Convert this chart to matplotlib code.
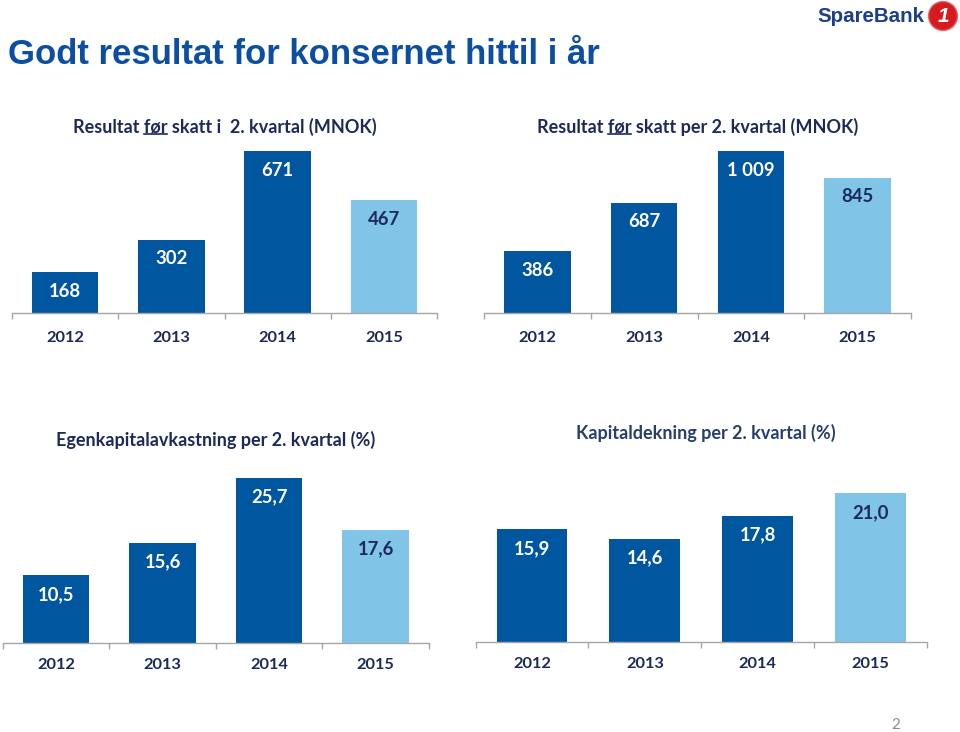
import matplotlib
matplotlib.use('Agg')
import matplotlib.pyplot as plt
from matplotlib.lines import Line2D
from matplotlib.patches import Circle
from matplotlib.transforms import IdentityTransform

years = ['2012', '2013', '2014', '2015']
res_kvartal = [168, 302, 671, 467]
res_hittil = [386, 687, 1009, 845]
ek_avkastning = [10.5, 15.6, 25.7, 17.6]
kapitaldekning = [15.9, 14.6, 17.8, 21.0]

W, H = 960, 732
dark = '#00579F'
light = '#80C4E8'
navy = '#1C2A5A'
grey = '#A6A6A6'
font = 'Lato'

fig = plt.figure(figsize=(W / 100, H / 100), dpi=100)


def px_axes(x0, x1, ytop, ybot):
    return fig.add_axes([x0 / W, 1 - ybot / H, (x1 - x0) / W, (ybot - ytop) / H])


def fmt_int(v):
    return f'{v:,}'.replace(',', ' ')


def fmt_dec(v):
    return f'{v:.1f}'.replace('.', ',')


def bar_chart(ax, values, ymax, fmt, bw=0.625, lab_pad=13):
    x = range(len(values))
    colors = [dark] * (len(values) - 1) + [light]
    ax.bar(x, values, width=bw, color=colors)
    ax.set_xlim(-0.5, len(values) - 0.5)
    ax.set_ylim(0, ymax)
    for s in ['top', 'right', 'left']:
        ax.spines[s].set_visible(False)
    ax.spines['bottom'].set_color(grey)
    ax.spines['bottom'].set_linewidth(1)
    ax.set_yticks([])
    ax.set_xticks([i - 0.5 for i in range(len(values) + 1)], labels=[''] * (len(values) + 1))
    ax.tick_params(axis='x', which='major', direction='out', length=4, color=grey, width=1)
    ax.set_xticks(list(x), labels=years, minor=True)
    ax.tick_params(axis='x', which='minor', length=0, pad=lab_pad)
    for lbl in ax.get_xticklabels(minor=True):
        lbl.set_fontfamily(font)
        lbl.set_fontweight('bold')
        lbl.set_fontsize(11.8)
        lbl.set_color(navy)
    for i, v in enumerate(values):
        c = 'white' if i < len(values) - 1 else navy
        ax.annotate(fmt(v), (i, v), xytext=(0, -19), textcoords='offset pixels',
                    ha='center', va='center', color=c, fontsize=13.3,
                    fontweight='bold', family=font)


ax1 = px_axes(12, 437, 140, 312.7)
bar_chart(ax1, res_kvartal, 717, fmt_int, lab_pad=13)
ax2 = px_axes(484, 911, 140, 313.3)
bar_chart(ax2, res_hittil, 1079, fmt_int, lab_pad=13)
ax3 = px_axes(2.7, 429, 465, 642.7)
bar_chart(ax3, ek_avkastning, 27.73, fmt_dec, lab_pad=11)
ax4 = px_axes(475.7, 926.7, 465, 642)
bar_chart(ax4, kapitaldekning, 25.0, fmt_dec, bw=0.627, lab_pad=11)


def fig_text(x, y, s, **kw):
    return fig.text(x / W, 1 - y / H, s, **kw)


fig_text(8, 54, 'Godt resultat for konsernet hittil i år', ha='left', va='center',
         family='Liberation Sans', fontweight='bold', fontsize=25, color='#0B4EA2')

# SpareBank 1 logo
fig_text(817, 17, 'SpareBank', ha='left', va='center', family='Liberation Sans',
         fontweight='bold', fontsize=14.8, color='#1B3E8E')
fig.add_artist(Circle((943, H - 16), 14.5, transform=IdentityTransform(),
                      facecolor='#D71920', edgecolor='#E86A6E', linewidth=1))
fig_text(943, 16, '1', ha='center', va='center', family='Liberation Sans',
         fontweight='bold', fontsize=15, color='white', style='italic')

fig_text(896, 725, '2', ha='center', va='center', family=font, fontsize=11, color='#8C8C8C')

# chart titles
tprops = dict(ha='center', va='center', family=font, fontweight='bold', fontsize=13)
t1 = fig_text(224.5, 127, 'Resultat før skatt i  2. kvartal (MNOK)', color=navy, **tprops)
t2 = fig_text(697.5, 127, 'Resultat før skatt per 2. kvartal (MNOK)', color=navy, **tprops)
fig_text(215.5, 440, 'Egenkapitalavkastning per 2. kvartal (%)', color=navy, **tprops)
fig_text(705.5, 433, 'Kapitaldekning per 2. kvartal (%)', color='#263F6E', **tprops)

# underline "før" in the two top titles
fig.canvas.draw()
r = fig.canvas.get_renderer()
for t in [t1, t2]:
    bb = t.get_window_extent(r)
    tmp = fig.text(0, 0, 'Resultat før', family=font, fontweight='bold', fontsize=13)
    w_pre = tmp.get_window_extent(r).width
    tmp.set_text('før')
    w_for = tmp.get_window_extent(r).width
    tmp.remove()
    x1 = bb.x0 + w_pre
    x0 = x1 - w_for
    y = bb.y0 + 2
    fig.add_artist(Line2D([x0, x1], [y, y], transform=IdentityTransform(),
                          color=navy, linewidth=1.2))

fig.savefig('out.png', dpi=100)
